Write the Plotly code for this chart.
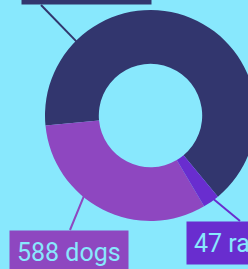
import math
import plotly.graph_objects as go

# Data
labels = ["cats", "dogs", "rats"]
values = [1205, 588, 47]
colors = ["#32366E", "#8E47C0", "#692DCF"]
text_labels = [f"{v:,} {l}" for v, l in zip(values, labels)]

BG = "#88E8FD"
W, H = 256, 269
CX, CY, R = 150.5, 115.5, 105.5  # donut centre / radius in px
HOLE = 0.49

fig = go.Figure(go.Pie(
    labels=labels, values=values, sort=False, direction="counterclockwise",
    rotation=-95.5, hole=HOLE, textinfo="none", hoverinfo="skip",
    marker=dict(colors=colors, line=dict(width=0)),
    domain=dict(x=[(CX - R) / W, (CX + R) / W],
                y=[1 - (CY + R) / H, 1 - (CY - R) / H]),
    showlegend=False,
))

def px(x, y):
    return x / W, 1 - y / H

def ring(angle_deg, r=R - 1):
    a = math.radians(angle_deg)
    return CX + r * math.sin(a), CY - r * math.cos(a)

# label boxes: left px, edge px, anchor, leader angle, leader end
boxes = [
    dict(x=21, y=5, ya="bottom", ang=315, end=(41, 5)),
    dict(x=9, y=230, ya="top", ang=219.6, end=(70, 230)),
    dict(x=186, y=221, ya="top", ang=143.0, end=(240, 221)),
]

shapes = []
annotations = []
for b, txt, col in zip(boxes, text_labels, colors):
    sx, sy = ring(b["ang"])
    x0, y0 = px(sx, sy)
    x1, y1 = px(*b["end"])
    shapes.append(dict(type="line", xref="paper", yref="paper",
                       x0=x0, y0=y0, x1=x1, y1=y1,
                       line=dict(color=col, width=2)))
    ax, ay = px(b["x"], b["y"])
    annotations.append(dict(
        text=txt, xref="paper", yref="paper", x=ax, y=ay,
        xanchor="left", yanchor=b["ya"], showarrow=False,
        bgcolor=col, borderpad=7, height=28,
        font=dict(family="Roboto", size=25, color=BG),
    ))

fig.update_layout(
    width=W, height=H, autosize=False,
    margin=dict(l=0, r=0, t=0, b=0),
    paper_bgcolor=BG, plot_bgcolor=BG,
    shapes=shapes, annotations=annotations,
)

fig.write_html("out.html", config={"displayModeBar": False},
               post_script="document.body.style.margin='0';document.body.style.overflow='hidden';")
